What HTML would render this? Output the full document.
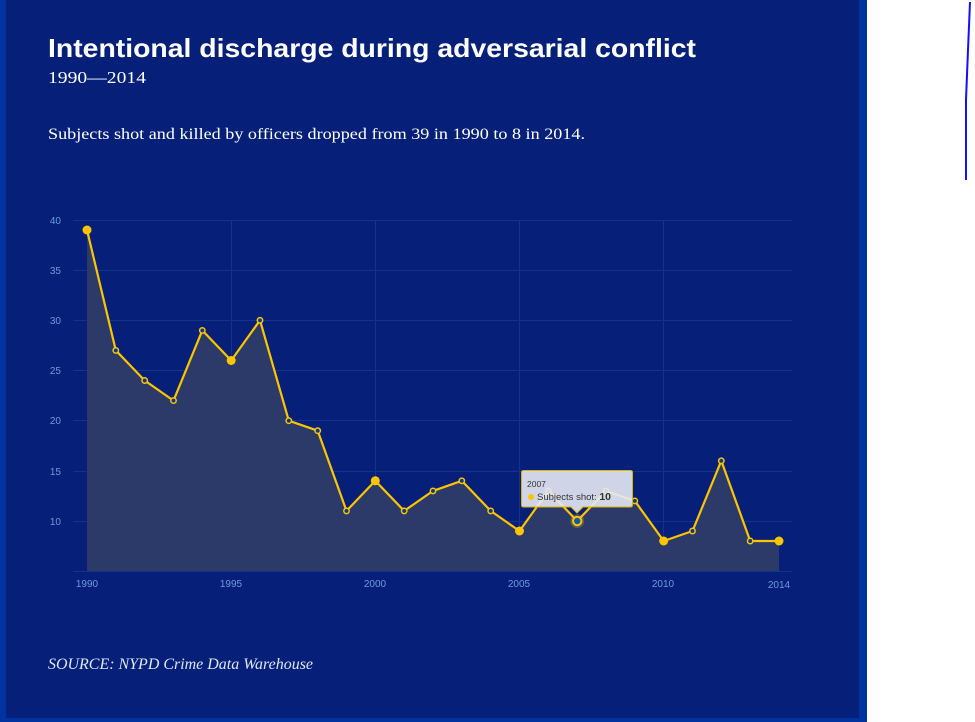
<!DOCTYPE html>
<html><head><meta charset="utf-8"><style>
html,body{margin:0;padding:0;background:#fff;}
svg{display:block;}
</style></head><body>
<svg width="975" height="722" viewBox="0 0 975 722" xmlns="http://www.w3.org/2000/svg">
<rect x="0" y="0" width="867" height="722" fill="#0033a0"/>
<rect x="6" y="0" width="853" height="718" fill="#06207a"/>
<path d="M970 2 L968 50 L966 100 L966 180" stroke="#1010ff" stroke-width="2" fill="none"/>
<text x="48" y="57" font-family="Liberation Sans, sans-serif" font-weight="bold" font-size="26" fill="#fff" textLength="648" lengthAdjust="spacingAndGlyphs">Intentional discharge during adversarial conflict</text>
<text x="48" y="83" font-family="Liberation Serif, serif" font-size="17" fill="#fff" textLength="98" lengthAdjust="spacingAndGlyphs">1990—2014</text>
<text x="48" y="139" font-family="Liberation Serif, serif" font-size="16" fill="#fff" textLength="537" lengthAdjust="spacingAndGlyphs">Subjects shot and killed by officers dropped from 39 in 1990 to 8 in 2014.</text>
<text x="48" y="669" font-family="Liberation Serif, serif" font-style="italic" font-size="16" fill="#dde6ff" textLength="265" lengthAdjust="spacingAndGlyphs">SOURCE: NYPD Crime Data Warehouse</text>
<g stroke="#14348c" stroke-width="1">
<line x1="73" y1="220.5" x2="792" y2="220.5"/>
<line x1="73" y1="270.5" x2="792" y2="270.5"/>
<line x1="73" y1="320.5" x2="792" y2="320.5"/>
<line x1="73" y1="370.5" x2="792" y2="370.5"/>
<line x1="73" y1="420.5" x2="792" y2="420.5"/>
<line x1="73" y1="471.5" x2="792" y2="471.5"/>
<line x1="73" y1="521.5" x2="792" y2="521.5"/>
<line x1="231.5" y1="220" x2="231.5" y2="571"/>
<line x1="375.5" y1="220" x2="375.5" y2="571"/>
<line x1="519.5" y1="220" x2="519.5" y2="571"/>
<line x1="663.5" y1="220" x2="663.5" y2="571"/>
</g>
<g font-family="Liberation Sans, sans-serif" font-size="10" fill="#6f9ad8" text-anchor="end">
<text x="61" y="224">40</text>
<text x="61" y="274">35</text>
<text x="61" y="324">30</text>
<text x="61" y="374">25</text>
<text x="61" y="424">20</text>
<text x="61" y="475">15</text>
<text x="61" y="525">10</text>
</g>
<g font-family="Liberation Sans, sans-serif" font-size="10" fill="#6f9ad8" text-anchor="middle">
<text x="87" y="587">1990</text>
<text x="231" y="587">1995</text>
<text x="375" y="587">2000</text>
<text x="519" y="587">2005</text>
<text x="663" y="587">2010</text>
<text x="779" y="588">2014</text>
</g>
<path fill="#2c3a6a" d="M87 230 L115.8 350.4 L144.7 380.5 L173.5 400.6 L202.3 330.4 L231.2 360.5 L260 320.3 L288.8 420.7 L317.7 430.7 L346.5 510.9 L375.3 480.8 L404.2 510.9 L433 490.9 L461.8 480.8 L490.7 510.9 L519.5 531 L548.3 490.9 L577.2 521 L606 490.9 L634.8 500.9 L663.7 541 L692.5 531 L721.3 460.8 L750.2 541 L779 541 L779 571 L87 571 Z"/>
<line x1="73" y1="571.5" x2="792" y2="571.5" stroke="#14348c" stroke-width="1"/>
<polyline fill="none" stroke="#fcc500" stroke-width="2.2" stroke-linejoin="round" points="87,230 115.8,350.4 144.7,380.5 173.5,400.6 202.3,330.4 231.2,360.5 260,320.3 288.8,420.7 317.7,430.7 346.5,510.9 375.3,480.8 404.2,510.9 433,490.9 461.8,480.8 490.7,510.9 519.5,531 548.3,490.9 577.2,521 606,490.9 634.8,500.9 663.7,541 692.5,531 721.3,460.8 750.2,541 779,541"/>
<g fill="#fcc500">
<circle cx="87" cy="230" r="4.5"/>
<circle cx="231.2" cy="360.5" r="4.5"/>
<circle cx="375.3" cy="480.8" r="4.5"/>
<circle cx="519.5" cy="531" r="4.5"/>
<circle cx="663.7" cy="541" r="4.5"/>
<circle cx="779" cy="541" r="4.5"/>
</g>
<g fill="#0b3a8a" stroke="#fcc500" stroke-width="1.5">
<circle cx="115.8" cy="350.4" r="2.7"/>
<circle cx="144.7" cy="380.5" r="2.7"/>
<circle cx="173.5" cy="400.6" r="2.7"/>
<circle cx="202.3" cy="330.4" r="2.7"/>
<circle cx="260" cy="320.3" r="2.7"/>
<circle cx="288.8" cy="420.7" r="2.7"/>
<circle cx="317.7" cy="430.7" r="2.7"/>
<circle cx="346.5" cy="510.9" r="2.7"/>
<circle cx="404.2" cy="510.9" r="2.7"/>
<circle cx="433" cy="490.9" r="2.7"/>
<circle cx="461.8" cy="480.8" r="2.7"/>
<circle cx="490.7" cy="510.9" r="2.7"/>
<circle cx="548.3" cy="490.9" r="2.7"/>
<circle cx="606" cy="490.9" r="2.7"/>
<circle cx="634.8" cy="500.9" r="2.7"/>
<circle cx="692.5" cy="531" r="2.7"/>
<circle cx="721.3" cy="460.8" r="2.7"/>
<circle cx="750.2" cy="541" r="2.7"/>
</g>
<circle cx="577.2" cy="521" r="7" fill="#fcc500" opacity="0.25"/>
<circle cx="577.2" cy="521" r="4.2" fill="#0b5cb0" stroke="#fcc500" stroke-width="2"/>
<path d="M523.5 470.5 L630.5 470.5 Q632.5 470.5 632.5 472.5 L632.5 505 Q632.5 507 630.5 507 L583 507 L577 513 L571 507 L523.5 507 Q521.5 507 521.5 505 L521.5 472.5 Q521.5 470.5 523.5 470.5 Z" fill="#e6e8f2" fill-opacity="0.9" stroke="#d9b400" stroke-width="1"/>
<text x="527" y="487" font-family="Liberation Sans, sans-serif" font-size="8.5" fill="#333">2007</text>
<circle cx="531" cy="497" r="3" fill="#fcc500"/>
<text x="537" y="500" font-family="Liberation Sans, sans-serif" font-size="9.5" fill="#333">Subjects shot: <tspan font-weight="bold" font-size="10.5">10</tspan></text>
</svg>
</body></html>
